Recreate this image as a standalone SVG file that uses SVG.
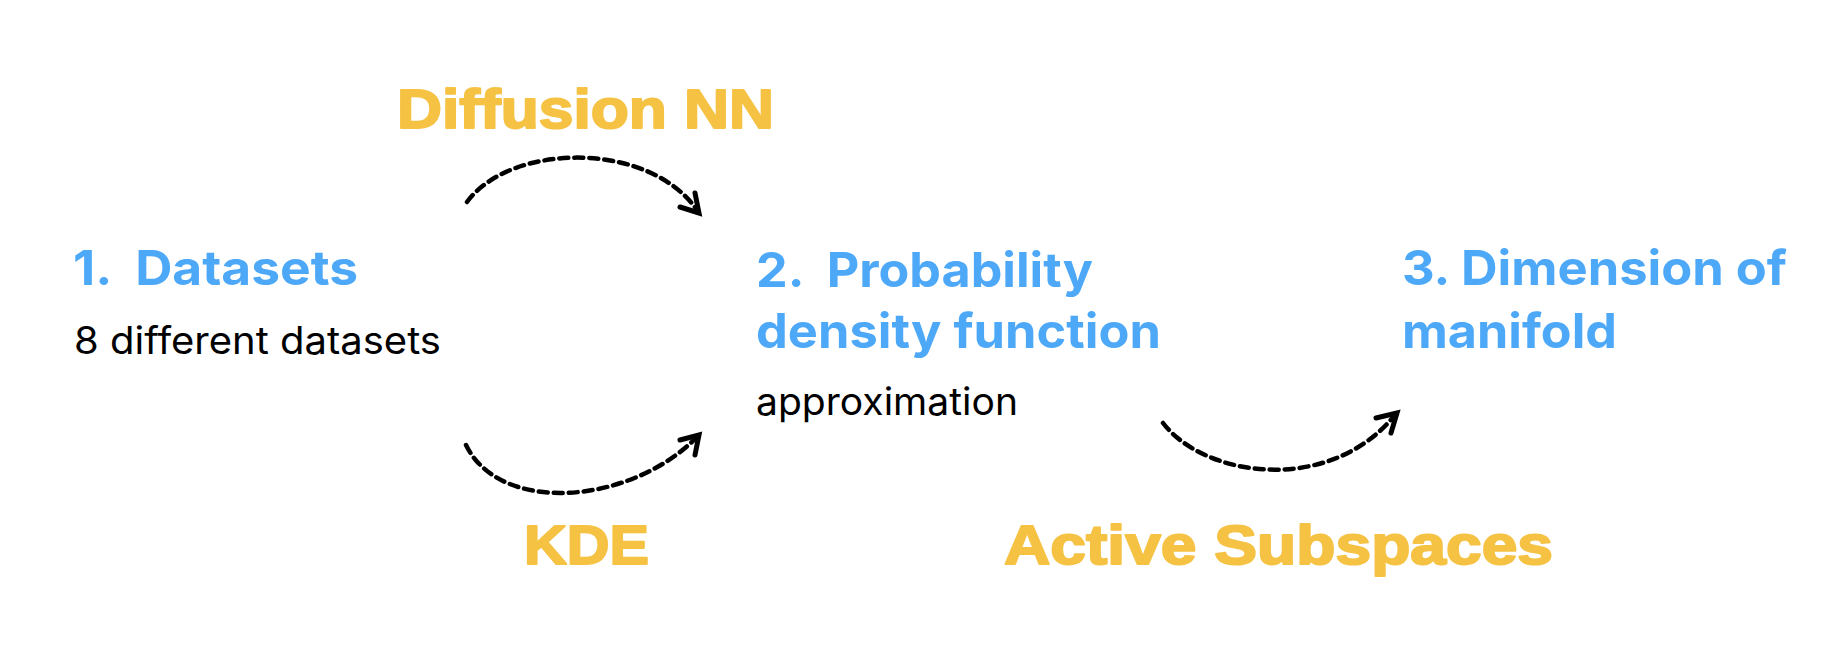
<svg xmlns="http://www.w3.org/2000/svg" width="1826" height="672" viewBox="0 0 1826 672">
<style>
.h{font-family:Inter,"Liberation Sans",sans-serif;font-weight:700;font-size:48px;fill:#4DA8F8}
.b{font-family:Inter,"Liberation Sans",sans-serif;font-weight:400;font-size:38px;fill:#000}
.y{font-family:"Liberation Sans",Arial,sans-serif;font-weight:900;font-size:56px;fill:#F5C243;stroke:#F5C243;stroke-width:2;stroke-linejoin:round}
.c{fill:none;stroke:#000;stroke-width:4.5;stroke-dasharray:9 6;stroke-linecap:round}
.a{fill:none;stroke:#000;stroke-width:5;stroke-linecap:round;stroke-linejoin:miter}
</style>
<rect width="1826" height="672" fill="#fff"/>
<g id="node1">
<text class="h" x="73" y="285" xml:space="preserve" textLength="285" lengthAdjust="spacingAndGlyphs">1.  Datasets</text>
<text class="b" x="74" y="354" textLength="367" lengthAdjust="spacingAndGlyphs">8 different datasets</text>
</g>
<g id="node2">
<text class="h" x="756" y="287" xml:space="preserve" textLength="337" lengthAdjust="spacingAndGlyphs">2.  Probability</text>
<text class="h" x="756" y="348" textLength="405" lengthAdjust="spacingAndGlyphs">density function</text>
<text class="b" x="756" y="415" textLength="262" lengthAdjust="spacingAndGlyphs">approximation</text>
</g>
<g id="node3">
<text class="h" x="1402" y="285" textLength="385" lengthAdjust="spacingAndGlyphs">3. Dimension of</text>
<text class="h" x="1402" y="348" textLength="215" lengthAdjust="spacingAndGlyphs">manifold</text>
</g>
<g id="labels">
<text class="y" x="397" y="128" textLength="377" lengthAdjust="spacingAndGlyphs">Diffusion NN</text>
<text class="y" x="524" y="564" textLength="125" lengthAdjust="spacingAndGlyphs">KDE</text>
<text class="y" x="1004" y="564" textLength="549" lengthAdjust="spacingAndGlyphs">Active Subspaces</text>
</g>
<g id="connectors">
<path class="c" d="M467,202 C510,143 648,140 697,210"/>
<path class="a" d="M695,193 L699,213 L680,207"/>
<path class="c" d="M466,445 C500,515 630,505 697,437"/>
<path class="a" d="M680,440 L699,435 L695,455"/>
<path class="c" d="M1163,423 C1205,478 1330,495 1395,415"/>
<path class="a" d="M1376,418 L1397,413 L1391,433"/>
</g>
</svg>
